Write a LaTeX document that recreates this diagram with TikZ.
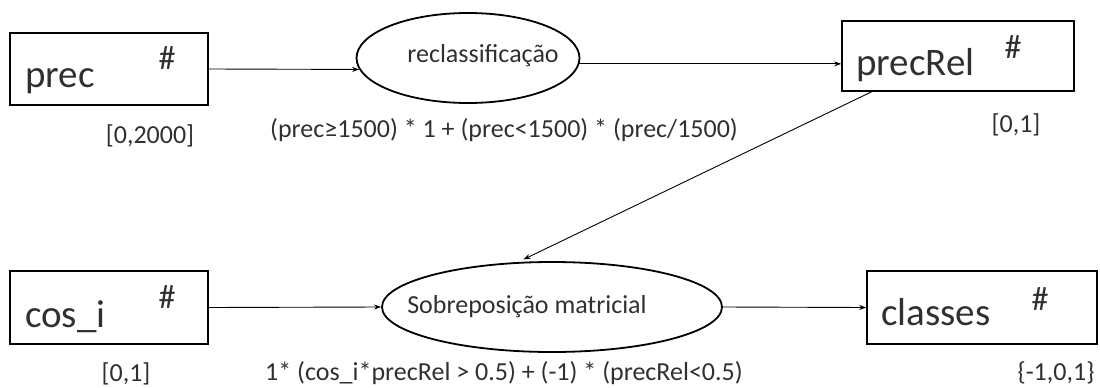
\documentclass[tikz,border=0pt]{standalone}
\usepackage{fontspec}
\setmainfont{Carlito}
\usetikzlibrary{shapes.geometric,arrows.meta,calc}
\definecolor{txt}{HTML}{303030}
\tikzset{
  box/.style={draw=black, line width=1.6pt, rectangle, inner sep=0pt},
  oval/.style={draw=black, line width=1.8pt, ellipse, inner sep=0pt},
  arr/.style={-{Stealth[length=7pt,width=5pt]}, line width=0.9pt},
  big/.style={font=\fontsize{39}{44}\selectfont, text=txt, inner sep=0pt},
  hash/.style={font=\fontsize{34}{38}\selectfont, text=txt, inner sep=0pt},
  small/.style={font=\fontsize{26}{30}\selectfont, text=txt, inner sep=0pt},
}
\begin{document}
\begin{tikzpicture}[x=1pt,y=-1pt]
\useasboundingbox (0,0) rectangle (1100,388);
% boxes
\node[box, minimum width=198pt, minimum height=72pt] (prec) at (109,69) {};
\node[box, minimum width=232pt, minimum height=70pt] (precRel) at (958,56) {};
\node[box, minimum width=198pt, minimum height=73pt] (cos) at (109,307.5) {};
\node[box, minimum width=230pt, minimum height=73pt] (classes) at (982,307.5) {};
% ellipses
\node[oval, minimum width=223pt, minimum height=90pt] (recl) at (468,58) {};
\node[oval, minimum width=340pt, minimum height=90pt] (sob) at (552,307) {};
% box texts
\node[big, anchor=base west] (precT) at (25,87) {prec};
\node[hash] (precH) at (167,58) {\#};
\node[big, anchor=base west] (precRelT) at (856,75) {precRel};
\node[hash] (precRelH) at (1013,47) {\#};
\node[big, anchor=base west] (cosT) at (25,327) {cos\_i};
\node[hash] (cosH) at (167,297) {\#};
\node[big, anchor=base west] (classesT) at (881,325) {classes};
\node[hash] (classesH) at (1040,299) {\#};
% ellipse texts
\node[small, anchor=base] (reclT) at (483,62) {reclassificação};
\node[small, anchor=base] (sobT) at (527,313) {Sobreposição matricial};
% labels
\node[small, anchor=base] (f1) at (504,137) {(prec≥1500) * 1 + (prec<1500) * (prec/1500)};
\node[small, anchor=base] (f2) at (504,380) {1* (cos\_i*precRel > 0.5) + (-1) * (precRel<0.5)};
\node[small, anchor=base] (r1) at (150,143) {[0,2000]};
\node[small, anchor=base] (r2) at (1016,132) {[0,1]};
\node[small, anchor=base] (r3) at (126,381) {[0,1]};
\node[small, anchor=base] (r4) at (1056,380) {\{-1,0,1\}};
% connectors
\draw[arr] (prec.east) -- (recl.186);
\draw[arr] (recl.357) -- (recl.357 -| precRel.west);
\draw[arr, shorten >=6pt] ($(precRel.south west)!0.13!(precRel.south east)$) -- (sob.127);
\draw[arr] (cos.east) -- (sob.west);
\draw[arr] (sob.east) -- (classes.west);
\end{tikzpicture}
\end{document}
